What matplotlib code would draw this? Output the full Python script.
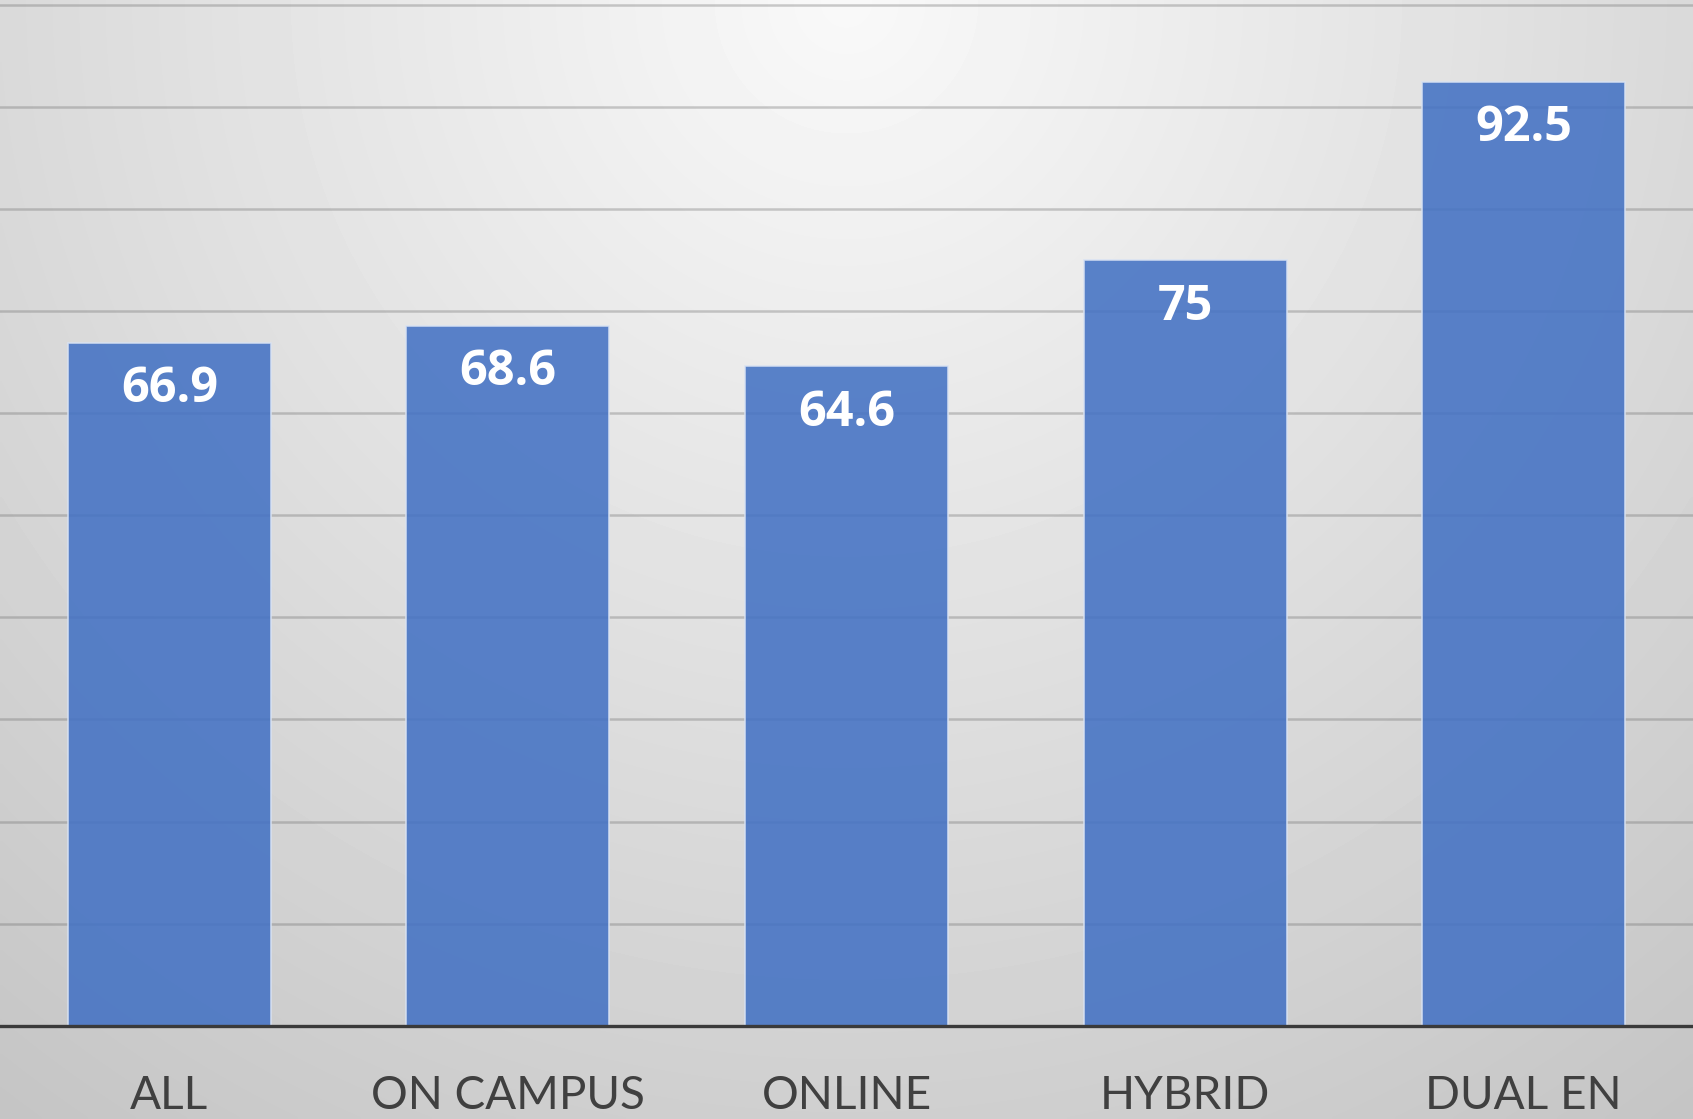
import numpy as np
import matplotlib.pyplot as plt

# data
categories = ['ALL', 'ON CAMPUS', 'ONLINE', 'HYBRID', 'DUAL EN']
values = [66.9, 68.6, 64.6, 75, 92.5]
value_labels = ['66.9', '68.6', '64.6', '75', '92.5']

plt.rcParams['font.family'] = ['Lato', 'DejaVu Sans']

fig = plt.figure(figsize=(16.93, 11.19), dpi=100)

# radial grey background, light at top centre
bg = fig.add_axes([0, 0, 1, 1], zorder=-10)
h, w = 300, 450
yy, xx = np.mgrid[0:h, 0:w]
dx = (xx / (w - 1) - 0.5) * (16.93 / 11.19)
dy = yy / (h - 1)
dist = np.sqrt(dx ** 2 + dy ** 2)
shade = (249 - 42 * dist) / 255.0
bg.imshow(shade, cmap='gray', vmin=0, vmax=1, aspect='auto',
          extent=[0, 1, 0, 1], origin='upper', interpolation='bilinear')
bg.set_xlim(0, 1)
bg.set_ylim(0, 1)
bg.axis('off')

ax = fig.add_axes([0, 0.0835, 1, 0.9145])
ax.patch.set_alpha(0)
x = np.arange(len(categories))
ax.bar(x, values, width=0.6, color='#4472C4', alpha=0.88,
       edgecolor='#d8e2f3', linewidth=1.2, zorder=3)

for xi, v, lab in zip(x, values, value_labels):
    ax.annotate(lab, (xi, v), xytext=(0, -16), textcoords='offset points',
                ha='center', va='top', color='white', fontsize=35,
                fontweight='bold', family=['Open Sans', 'DejaVu Sans'],
                zorder=4)

ax.set_xlim(-0.5, 4.5)
ax.set_ylim(0, 100.3)
ax.set_yticks(np.arange(10, 101, 10))
ax.yaxis.grid(True, color='#6f6f6f', alpha=0.35, linewidth=1.8, zorder=1)
ax.set_axisbelow(True)
ax.tick_params(axis='y', left=False, labelleft=False)
ax.tick_params(axis='x', bottom=False, labelsize=33, labelcolor='#404040', pad=32)
ax.set_xticks(x)
ax.set_xticklabels(categories)

for side in ['top', 'right', 'left']:
    ax.spines[side].set_visible(False)
ax.spines['bottom'].set_color('#3a3a3a')
ax.spines['bottom'].set_linewidth(2.4)
ax.spines['bottom'].set_zorder(5)

fig.savefig('out.png', dpi=100)
plt.close()
